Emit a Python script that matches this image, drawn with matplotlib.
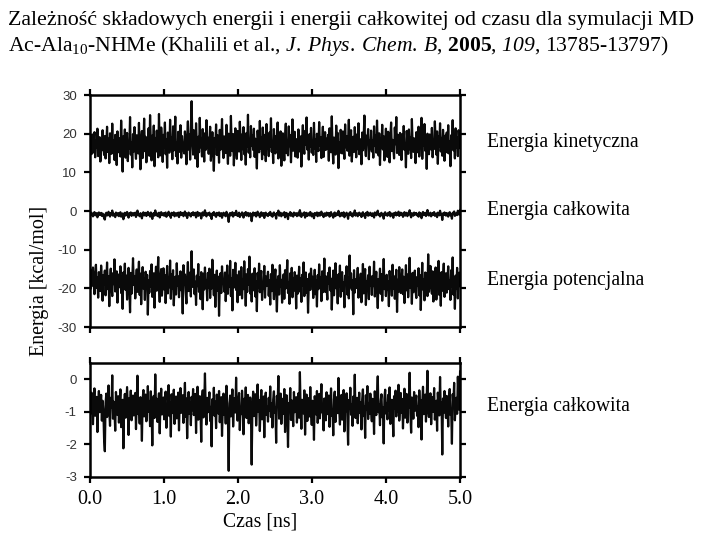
import numpy as np
import matplotlib
matplotlib.use('Agg')
import matplotlib.pyplot as plt

# energy traces (kcal/mol), 500 samples over 5 ns
kinetic = [
    16.2, 18.9, 14.7, 19.8, 15.1, 17.6, 20.4, 13.9, 18.2, 16.5, 21.3, 14.2, 17.9, 19.1, 12.8, 18.6, 15.7, 20.9, 16.8, 14.5,
    19.4, 13.6, 17.2, 21.8, 15.3, 18.7, 12.4, 20.1, 16.9, 14.8, 22.6, 15.9, 18.3, 13.2, 19.7, 16.4, 11.9, 20.6, 17.5, 15.2,
    18.8, 14.1, 23.4, 16.7, 10.2, 19.3, 15.6, 21.1, 13.8, 17.4, 20.2, 12.9, 18.1, 16.2, 24.3, 14.6, 17.8, 11.3, 19.9, 15.4,
    21.7, 16.1, 13.5, 19.6, 17.3, 14.9, 22.8, 15.8, 10.8, 18.4, 20.7, 13.7, 17.1, 23.9, 15.5, 19.2, 12.6, 18.5, 16.6, 21.4,
    14.3, 24.8, 17.7, 13.1, 19.5, 16.3, 22.1, 11.6, 18.9, 15.4, 20.8, 17.2, 13.9, 25.1, 16.8, 14.4, 21.6, 18.2, 12.7, 19.7,
    16.4, 22.9, 14.7, 18.6, 11.2, 20.3, 17.4, 15.1, 23.6, 16.0, 19.1, 13.4, 21.9, 15.7, 18.3, 24.4, 14.2, 17.6, 12.3, 20.5,
    17.9, 15.3, 22.2, 13.8, 19.4, 16.6, 16.2, 14.9, 20.6, 17.1, 12.1, 18.8, 23.2, 15.9, 19.8, 13.3, 21.5, 28.4, 18.4, 14.6,
    20.9, 16.9, 13.6, 22.7, 17.5, 11.4, 19.2, 15.2, 24.1, 16.5, 18.7, 14.1, 21.2, 17.8, 12.8, 20.1, 15.8, 23.5, 16.3, 19.0,
    14.8, 18.5, 21.8, 13.0, 17.3, 20.4, 15.6, 10.4, 18.9, 16.7, 22.4, 14.5, 19.6, 17.0, 12.5, 21.0, 15.9, 18.2, 23.8, 16.1,
    13.7, 19.3, 17.6, 15.0, 22.3, 16.8, 12.2, 20.0, 18.1, 14.3, 24.6, 17.4, 15.5, 19.9, 11.8, 18.0, 21.4, 16.4, 13.5, 20.7,
    17.2, 15.4, 23.1, 18.6, 13.2, 19.8, 16.0, 21.7, 14.7, 17.9, 12.0, 20.2, 16.6, 24.9, 15.1, 18.3, 13.9, 22.0, 17.0, 19.5,
    15.8, 21.3, 14.0, 18.7, 16.9, 11.0, 20.8, 17.3, 15.2, 23.3, 16.1, 19.0, 13.4, 21.6, 17.7, 14.6, 19.7, 12.9, 22.5, 16.3,
    18.4, 14.2, 20.3, 16.7, 24.0, 15.3, 18.1, 12.4, 21.2, 17.5, 14.9, 19.4, 16.2, 22.9, 13.6, 18.9, 15.7, 20.6, 11.7, 17.8,
    20.1, 16.5, 13.1, 19.2, 22.6, 15.0, 17.4, 14.4, 21.9, 16.8, 19.6, 12.6, 18.0, 23.7, 15.6, 17.1, 20.5, 14.1, 18.6, 16.0,
    13.8, 21.1, 17.6, 15.4, 19.3, 11.5, 18.3, 22.2, 16.4, 14.8, 20.7, 17.2, 24.2, 15.9, 18.8, 13.3, 19.9, 16.6, 21.5, 15.1,
    17.7, 14.5, 22.8, 16.2, 18.5, 12.7, 20.0, 17.0, 15.5, 23.0, 16.9, 19.1, 13.7, 18.2, 21.8, 14.0, 17.5, 20.4, 15.8, 18.7,
    16.1, 19.7, 13.0, 21.4, 17.3, 15.2, 24.5, 16.7, 12.3, 19.0, 18.4, 14.6, 22.1, 16.3, 20.2, 11.1, 17.8, 15.0, 21.0, 18.1,
    14.9, 20.6, 17.1, 13.5, 22.4, 16.5, 19.4, 15.6, 18.0, 23.6, 14.3, 17.9, 20.9, 12.8, 16.8, 19.2, 15.3, 21.7, 17.4, 13.9,
    19.8, 16.0, 22.7, 14.7, 18.6, 17.2, 12.1, 20.3, 15.7, 18.9, 24.7, 16.4, 14.2, 19.5, 17.6, 21.2, 13.4, 18.3, 16.1, 20.8,
    15.4, 18.2, 13.8, 21.9, 16.9, 19.6, 15.1, 23.4, 17.0, 14.4, 20.1, 11.9, 18.7, 16.3, 22.3, 15.9, 19.3, 13.1, 17.7, 21.3,
    16.6, 14.0, 20.5, 17.8, 12.6, 19.1, 22.9, 15.5, 18.4, 16.2, 13.6, 21.6, 17.3, 24.3, 15.0, 19.7, 16.8, 14.5, 20.2, 18.0,
    13.2, 19.9, 16.4, 22.0, 15.8, 17.5, 11.3, 20.7, 18.5, 14.8, 21.1, 16.0, 19.0, 13.7, 23.8, 17.1, 15.3, 18.8, 16.7, 12.4,
    20.4, 17.6, 15.2, 21.8, 14.1, 18.1, 16.5, 24.1, 13.5, 19.4, 17.0, 22.5, 15.6, 18.6, 10.9, 20.0, 16.9, 14.7, 19.8, 17.2,
    15.9, 21.5, 13.9, 18.3, 16.1, 23.2, 17.7, 14.6, 20.6, 12.2, 19.2, 16.6, 22.7, 15.4, 18.9, 14.3, 21.0, 17.4, 13.0, 19.5,
    16.8, 20.3, 15.1, 22.2, 14.9, 18.0, 11.6, 19.6, 17.3, 23.5, 15.7, 18.7, 13.6, 21.4, 16.4, 19.0, 14.2, 20.9, 17.9, 16.3,
]

total = [
    -0.62, -1.05, -0.41, -0.93, -1.38, -0.71, -0.28, -1.12, -0.85, -0.54, -1.62, -0.77, -0.36, -1.01, -0.89, -0.48, -1.27, -0.66, -0.95, -1.84,
    -2.21, -0.73, -0.44, -1.16, -0.82, -0.19, -0.98, -1.43, -0.57, -0.86, 0.12, -1.21, -0.69, -0.94, -1.58, -0.39, -0.81, -1.09, -0.52, -1.33,
    -0.76, -0.31, -1.47, -0.92, -0.63, -2.12, -0.84, -0.45, -1.18, -0.71, -0.24, -1.02, -1.71, -0.58, -0.88, -0.35, -1.26, -0.79, -0.50, -1.11,
    -0.93, -0.42, -1.53, -0.67, 0.11, -1.07, -0.83, -1.36, -0.55, -0.97, -1.89, -0.61, -0.33, -1.14, -0.78, -0.47, -1.29, -0.90, -0.21, -1.00,
    -0.68, -1.44, -0.37, -0.87, -2.03, -0.72, -0.51, -1.19, 0.15, -0.96, -0.60, -1.31, -0.80, -0.43, -1.66, -0.74, -0.29, -1.08, -0.91, -0.56,
    -1.23, -0.65, -0.38, -1.49, -0.82, -0.99, -0.18, -1.13, -0.70, -1.76, -0.46, -0.89, -1.04, -0.32, -1.37, -0.75, -0.53, -1.20, -0.86, -0.41,
    -1.57, -0.64, -0.27, -1.03, -0.92, -0.49, -1.34, -0.77, -0.11, -1.15, -0.59, -1.81, -0.84, -0.39, -1.06, -0.71, -1.41, -0.54, -0.95, -0.30,
    -1.10, -0.80, -0.45, -1.65, -0.66, -0.23, -1.24, -0.88, -0.52, -0.97, -1.92, -0.62, -0.34, -1.17, -0.76, 0.18, -0.91, -1.39, -0.57, -1.01,
    -0.73, -0.40, -1.28, -0.85, -2.06, -0.61, -0.96, -0.26, -1.12, -0.69, -1.50, -0.47, -0.83, -1.05, -0.36, -1.32, -0.78, -0.55, -1.74, -0.90,
    -0.44, -1.09, -0.67, -1.36, -0.20, -0.93, -1.22, -2.81, -0.74, -0.50, -1.14, -0.86, -0.31, -1.45, -0.79, -0.58, -1.02, 0.05, -0.94, -1.27,
    -0.70, -0.42, -1.56, -0.88, -1.07, -0.35, -0.81, -1.69, -0.60, -0.99, -0.25, -1.19, -0.76, -0.48, -1.35, -0.92, -0.56, -1.04, -2.62, -0.83,
    -0.38, -1.13, -0.72, -0.46, -1.42, -0.89, -0.16, -1.00, -0.64, -1.59, -0.80, -0.33, -1.23, -0.95, -0.53, -1.78, -0.68, -0.41, -1.09, -0.85,
    -1.30, -0.57, -0.97, -0.22, -1.16, -0.75, -1.48, -0.62, -0.37, -1.03, -0.87, -1.95, -0.51, -0.79, 0.10, -1.21, -0.93, -0.44, -1.37, -0.71,
    -0.60, -1.06, -0.30, -1.62, -0.84, -0.49, -1.11, -2.08, -0.73, -0.96, -0.27, -1.25, -0.65, -0.90, -1.44, -0.39, -1.01, -0.78, -0.55, -1.33,
    -0.86, -0.43, -1.18, 0.22, -0.92, -1.52, -0.63, -0.81, -1.05, -0.34, -1.70, -0.70, -0.47, -1.28, -0.88, -0.58, -1.14, -0.24, -0.99, -1.40,
    -0.66, -0.91, -1.86, -0.52, -0.77, -1.08, -0.36, -1.34, -0.82, -0.45, -1.20, -0.69, -0.15, -1.02, -0.94, -1.57, -0.59, -0.83, -1.26, -0.40,
    -1.07, -0.74, -0.50, -1.46, -0.87, -0.28, -1.12, -0.97, -1.72, -0.61, -0.38, -1.31, -0.80, -0.55, -1.04, 0.04, -0.90, -1.39, -0.67, -0.48,
    -1.24, -0.85, -0.33, -1.60, -0.72, -0.98, -0.43, -1.15, -2.01, -0.64, -0.89, -0.26, -1.09, -0.76, -1.43, -0.53, -0.95, 0.14, -1.19, -0.79,
    -0.57, -1.35, -0.88, -0.41, -1.03, -0.70, -1.54, -0.62, -0.31, -1.13, -0.84, -1.80, -0.49, -0.93, -0.21, -1.22, -0.75, -1.06, -0.44, -0.97,
    -1.29, -0.60, -0.82, -1.68, -0.37, -0.91, -1.10, -0.54, 0.09, -1.01, -0.78, -1.41, -0.66, -0.46, -1.17, -0.87, -1.97, -0.58, -0.32, -1.05,
    -0.73, -1.23, -0.48, -0.95, -0.25, -1.37, -0.81, -0.63, -1.08, -1.75, -0.52, -0.89, -0.35, -1.14, -0.69, -0.99, -0.17, -1.27, -0.84, -0.42,
    -1.02, -0.61, -1.51, -0.77, -0.29, -1.18, -0.92, -0.45, -1.33, -0.68, -0.86, 0.20, -1.04, -1.64, -0.56, -0.80, -1.21, -0.39, -0.97, -0.71,
    -0.50, -1.12, -0.83, -1.47, -0.34, -0.94, -0.64, -1.85, -0.76, -0.23, -1.07, -0.88, -0.47, -1.30, -0.60, 0.26, -0.98, -1.16, -0.70, -0.43,
    -1.38, -0.79, -0.55, -1.00, -0.27, -1.24, -0.90, -0.66, -1.58, -0.41, -0.85, -1.11, 0.07, -0.96, -0.72, -2.31, -0.59, -1.03, -0.36, -0.87,
    -1.19, -0.51, -0.80, -1.45, -0.63, -0.30, -1.09, -0.93, -1.98, -0.46, -0.74, -0.11, -1.26, -0.82, -0.57, -1.06, 0.08, -0.69, -0.94, 0.24,
]

potential = [
    -17.4, -20.1, -15.2, -19.3, -14.6, -18.8, -21.5, -16.3, -13.9, -19.9, -17.1, -22.4, -15.8, -18.2, -20.7, -14.1, -17.9, -23.2, -16.6, -19.0,
    -15.4, -21.8, -18.5, -13.3, -20.2, -16.9, -24.6, -17.6, -14.9, -19.6, -22.0, -16.1, -18.9, -12.5, -20.8, -17.2, -15.6, -23.7, -18.3, -16.4,
    -19.7, -14.3, -21.2, -17.0, -25.3, -15.9, -18.6, -13.6, -20.4, -16.7, -22.9, -18.1, -14.7, -19.4, -26.2, -16.0, -21.4, -17.7, -12.2, -19.1,
    -16.8, -22.6, -18.4, -15.1, -20.9, -17.3, -13.1, -21.7, -16.2, -24.1, -18.7, -14.5, -20.0, -17.5, -23.0, -15.7, -19.2, -16.5, -26.8, -18.0,
    -21.1, -15.5, -19.5, -13.8, -22.2, -17.8, -16.1, -25.0, -18.2, -14.4, -20.6, -16.8, -11.9, -19.8, -23.5, -17.4, -15.0, -21.9, -18.6, -14.8,
    -20.3, -16.6, -23.8, -18.0, -14.2, -21.3, -17.1, -19.7, -12.8, -22.7, -16.3, -20.1, -15.3, -24.4, -18.5, -17.0, -21.6, -13.5, -19.3, -16.9,
    -22.3, -18.9, -15.6, -20.5, -17.6, -26.5, -14.0, -19.0, -16.4, -21.0, -23.9, -17.3, -13.2, -20.7, -18.1, -15.9, -22.1, -10.4, -19.6, -17.8,
    -15.1, -21.5, -18.3, -24.3, -16.7, -19.4, -13.7, -20.9, -17.2, -22.8, -15.8, -18.8, -25.4, -16.2, -20.3, -14.6, -19.1, -17.9, -23.1, -16.0,
    -19.9, -14.9, -22.5, -17.5, -20.0, -12.6, -18.4, -21.8, -16.5, -24.8, -18.0, -15.4, -20.6, -17.0, -27.1, -19.3, -16.1, -21.2, -14.3, -18.7,
    -17.7, -20.8, -15.9, -23.3, -18.6, -14.1, -21.4, -16.8, -19.5, -12.9, -22.0, -17.4, -25.7, -15.2, -19.8, -18.2, -13.4, -20.4, -16.6, -23.6,
    -18.1, -15.6, -21.7, -19.2, -14.5, -22.6, -17.6, -20.2, -13.0, -18.9, -24.5, -16.4, -20.9, -15.0, -19.0, -11.8, -21.3, -17.1, -23.4, -16.2,
    -20.5, -17.9, -14.8, -22.1, -18.3, -25.9, -16.0, -19.7, -13.6, -21.0, -17.2, -15.5, -23.0, -18.8, -20.1, -14.2, -22.4, -16.9, -19.4, -17.5,
    -15.7, -21.9, -18.0, -24.2, -16.3, -20.7, -13.9, -19.1, -22.8, -17.0, -15.1, -20.3, -26.0, -18.5, -16.8, -21.6, -14.0, -19.6, -17.8, -23.7,
    -19.2, -16.4, -22.7, -15.3, -20.0, -17.7, -12.7, -21.2, -18.6, -24.0, -16.1, -19.9, -14.7, -22.3, -17.3, -20.6, -15.8, -18.2, -25.2, -16.7,
    -21.4, -18.4, -14.4, -20.8, -17.4, -23.5, -16.5, -19.3, -13.3, -22.0, -18.9, -15.9, -21.1, -17.6, -26.3, -19.0, -16.2, -20.4, -14.9, -18.1,
    -17.0, -22.5, -19.6, -15.2, -21.5, -18.0, -24.7, -16.6, -20.2, -13.8, -19.4, -17.2, -23.3, -15.6, -21.0, -18.7, -12.3, -20.9, -16.9, -19.8,
    -22.9, -16.0, -18.8, -14.6, -20.5, -17.5, -25.5, -19.2, -15.4, -21.8, -17.9, -13.5, -20.0, -18.3, -23.9, -16.4, -19.5, -14.1, -22.2, -17.3,
    -15.8, -20.7, -18.5, -24.9, -16.7, -19.1, -14.3, -21.6, -17.1, -22.6, -11.5, -19.7, -16.1, -20.3, -18.0, -26.7, -15.3, -21.1, -17.7, -19.9,
    -18.6, -14.7, -22.4, -17.4, -20.8, -16.2, -23.6, -19.0, -13.7, -21.3, -17.8, -15.0, -24.3, -18.2, -20.1, -16.6, -22.8, -14.4, -19.3, -17.0,
    -21.7, -16.8, -19.4, -13.1, -22.1, -18.4, -15.7, -20.6, -25.1, -17.6, -19.8, -14.9, -21.4, -16.3, -23.2, -18.9, -12.4, -20.2, -17.2, -22.0,
    -16.5, -20.4, -18.1, -24.6, -15.5, -19.5, -17.3, -21.9, -13.9, -20.0, -16.9, -22.7, -18.6, -15.2, -26.1, -17.8, -20.8, -14.5, -19.1, -21.2,
    -18.3, -15.1, -21.5, -17.0, -23.8, -19.6, -14.0, -20.5, -16.4, -22.3, -18.7, -12.1, -19.9, -17.5, -24.0, -16.0, -21.0, -18.0, -15.4, -20.7,
    -22.5, -17.1, -19.2, -14.8, -21.8, -16.6, -25.6, -18.4, -13.4, -20.3, -17.7, -23.1, -15.9, -19.7, -16.2, -22.0, -11.2, -20.9, -18.5, -14.2,
    -19.0, -21.4, -15.6, -23.4, -17.9, -20.1, -14.6, -22.9, -16.8, -19.3, -12.9, -21.7, -18.2, -24.5, -15.8, -20.6, -17.4, -13.6, -22.2, -18.8,
    -16.1, -21.1, -17.6, -14.3, -20.2, -18.0, -23.0, -15.3, -19.5, -12.0, -21.6, -17.2, -25.3, -16.7, -20.0, -14.7, -22.6, -18.3, -15.9, -19.4,
]

time = np.linspace(0, 5.0, len(kinetic))

labels_top = ['Energia kinetyczna', 'Energia całkowita', 'Energia potencjalna']
label_bottom = 'Energia całkowita'

serif = 'Liberation Serif'
sans = 'Liberation Sans'
plt.rcParams['axes.unicode_minus'] = False
plt.rcParams['mathtext.fontset'] = 'custom'
plt.rcParams['mathtext.rm'] = serif
plt.rcParams['mathtext.it'] = serif + ':italic'
plt.rcParams['mathtext.sf'] = serif + ':italic'   # used for italic digits
plt.rcParams['mathtext.bf'] = serif + ':bold'

fig = plt.figure(figsize=(7.2, 5.4), dpi=100)
ax1 = fig.add_axes([0.125, 0.3944, 0.514, 0.4296])
ax2 = fig.add_axes([0.125, 0.1167, 0.514, 0.2111])

line_kw = dict(color='#0a0a0a', lw=1.6)
ax1.plot(time, kinetic, **line_kw)
ax1.plot(time, total, **line_kw)
ax1.plot(time, potential, **line_kw)
ax2.plot(time, total, **line_kw)

for ax in (ax1, ax2):
    ax.set_xlim(0, 5.0)
    ax.set_xticks([0, 1, 2, 3, 4, 5])
    for s in ax.spines.values():
        s.set_linewidth(1.8)
    ax.tick_params(direction='out', top=True, right=True, length=4.5, width=1.6,
                   labelsize=9.5, labelcolor='#333333', pad=5)

ax1.set_ylim(-30, 30)
ax1.set_yticks([-30, -20, -10, 0, 10, 20, 30])
ax1.tick_params(labelbottom=False)
for lab in ax1.get_yticklabels():
    lab.set_fontfamily(sans)

ax2.set_ylim(-3, 0.5)
ax2.set_yticks([-3, -2, -1, 0])
ax2.set_xticklabels(['0.0', '1.0', '2.0', '3.0', '4.0', '5.0'])
for lab in ax2.get_yticklabels():
    lab.set_fontfamily(sans)
for lab in ax2.get_xticklabels():
    lab.set_fontfamily(serif)
    lab.set_fontsize(14.5)
    lab.set_color('black')

# side labels
for y, txt in zip([143, 210, 280], labels_top):
    fig.text(487 / 720, 1 - y / 540, txt, family=serif, fontsize=14.2, va='center')
fig.text(487 / 720, 1 - 407 / 540, label_bottom, family=serif, fontsize=14.2, va='center')

fig.text(40 / 720, 1 - 281 / 540, 'Energia [kcal/mol]', family=serif, fontsize=14.4,
         rotation=90, ha='center', va='center')
fig.text(260 / 720, 1 - 522 / 540, 'Czas [ns]', family=serif, fontsize=14.2,
         ha='center', va='center')

# title
fig.text(8 / 720, 1 - 20 / 540,
         'Zależność składowych energii i energii całkowitej od czasu dla symulacji MD',
         family=serif, fontsize=15.8, va='center')
fig.text(8 / 720, 1 - 46 / 540,
         r'Ac-Ala$_{10}$-NHMe (Khalili et al., $\mathit{J.\:Phys.\:Chem.\:B}$, '
         r'$\mathbf{2005}$, $\mathsf{109}$, 13785-13797)',
         family=serif, fontsize=15.6, va='center')

fig.savefig('out.png', dpi=100)
